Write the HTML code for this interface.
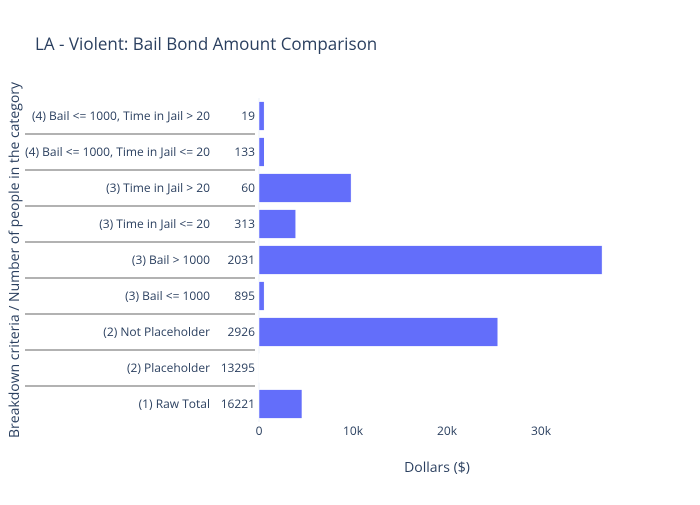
<!DOCTYPE html>
<html><head><meta charset="utf-8"><style>
body{margin:0;background:#fff}
svg{font-family:"Open Sans","Liberation Sans",sans-serif}
</style></head><body>
<svg id="chart" width="700" height="500">
<text x="35" y="50" font-size="17" fill="#2a3f5f">LA - Violent: Bail Bond Amount Comparison</text>
<text x="437" y="472" font-size="14" fill="#2a3f5f" text-anchor="middle">Dollars ($)</text>
<text transform="translate(19,260) rotate(-90)" font-size="14" fill="#2a3f5f" text-anchor="middle">Breakdown criteria / Number of people in the category</text>
<g id="plot"></g>
</svg>
<script>
const groups=["(1) Raw Total","(2) Placeholder","(2) Not Placeholder","(3) Bail <= 1000","(3) Bail > 1000","(3) Time in Jail <= 20","(3) Time in Jail > 20","(4) Bail <= 1000, Time in Jail <= 20","(4) Bail <= 1000, Time in Jail > 20"];
const counts=["16221","13295","2926","895","2031","313","60","133","19"];
const values=[4570,30,25400,550,36500,3900,9800,560,550];
const xTicks=[0,10000,20000,30000];
const xTickLabels=["0","10k","20k","30k"];
const NS="http://www.w3.org/2000/svg";
const g=document.getElementById('plot');
const x0=259,pxPer=94/10000,plotTop=98,plotBottom=422;
const rowH=(plotBottom-plotTop)/groups.length;
const xs=v=>x0+v*pxPer;
const yc=i=>plotBottom-(i+0.5)*rowH;
function mk(t,a){const e=document.createElementNS(NS,t);for(const k in a)e.setAttribute(k,a[k]);g.appendChild(e);return e;}
xTicks.forEach((t,i)=>{
 const tx=mk('text',{x:xs(t),y:435,'font-size':12,fill:'#2a3f5f','text-anchor':'middle'});
 
 
 tx.textContent=xTickLabels[i];
});
const zl=mk('line',{x1:x0,x2:x0,y1:plotTop,y2:plotBottom,stroke:'#ebf0f8','stroke-width':1});


groups.forEach((c,i)=>{
 const y=yc(i),h=rowH*0.8;
 const r=mk('rect',{x:x0,y:y-h/2,width:Math.max(0,xs(values[i])-x0),height:h,fill:'#636efa',stroke:'#fff','stroke-width':0.5});
 
 
 const l=mk('text',{x:210,y:y+4,'font-size':12,fill:'#2a3f5f','text-anchor':'end'});
 
 
 l.textContent=c;
 const n=mk('text',{x:255,y:y+4,'font-size':12,fill:'#2a3f5f','text-anchor':'end'});
 
 
 n.textContent=counts[i];
 if(i>0){
  const d=mk('line',{x1:25,x2:255,y1:y+rowH/2,y2:y+rowH/2,stroke:'#999','stroke-width':1.5});
  
  
 }
});
</script>
</body></html>
